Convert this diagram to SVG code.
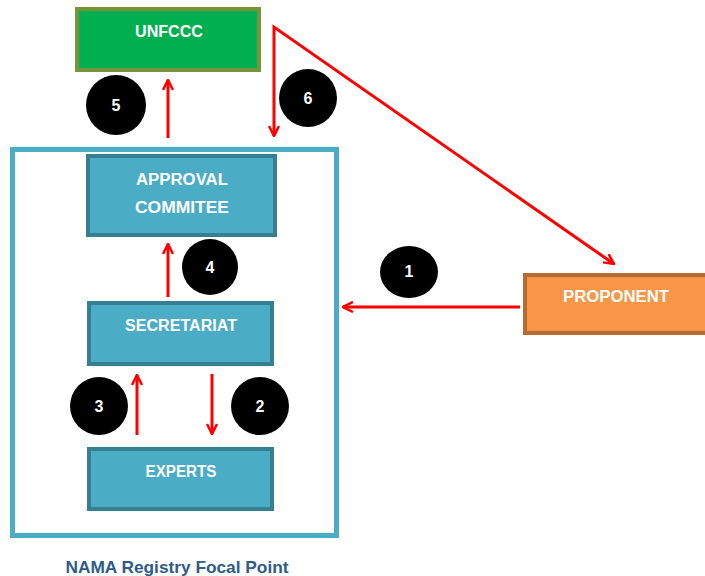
<svg xmlns="http://www.w3.org/2000/svg" width="705" height="576" viewBox="0 0 705 576">
<style>
.lbl{font-family:"Liberation Sans",Arial,sans-serif;font-weight:bold;fill:#ffffff;text-anchor:middle}
.num{font-family:"Liberation Sans",Arial,sans-serif;font-weight:bold;fill:#ffffff;font-size:16px;text-anchor:middle}
.teal{fill:#4BACC6;stroke:#367F93;stroke-width:4}
.conn{fill:none;stroke:#FF0000;stroke-width:3}
.badge{fill:#000000}
</style>
<defs>
<marker id="ah" viewBox="0 0 12 12" refX="11" refY="6" markerWidth="12" markerHeight="12" markerUnits="userSpaceOnUse" orient="auto-start-reverse">
<path d="M1,1 L11,6 L1,11" fill="none" stroke="#FF0000" stroke-width="2.5"/>
</marker>
</defs>
<rect x="0" y="0" width="705" height="576" fill="#ffffff"/>

<g id="focal-point">
<rect x="12.5" y="149.5" width="324" height="386" fill="none" stroke="#4BACC6" stroke-width="5"/>
<text x="177" y="573" font-family="'Liberation Sans',Arial,sans-serif" font-weight="bold" font-size="17" fill="#2E5C8A" text-anchor="middle" textLength="223" lengthAdjust="spacingAndGlyphs">NAMA Registry Focal Point</text>
</g>

<g id="unfccc">
<rect x="77" y="9" width="182" height="61" fill="#00B050" stroke="#77933C" stroke-width="4"/>
<text class="lbl" x="169" y="37" font-size="16" textLength="68" lengthAdjust="spacingAndGlyphs">UNFCCC</text>
</g>

<g id="approval">
<rect class="teal" x="88" y="156" width="187" height="79"/>
<text class="lbl" x="182" y="185" font-size="16" textLength="92" lengthAdjust="spacingAndGlyphs">APPROVAL</text>
<text class="lbl" x="182" y="213" font-size="16" textLength="94" lengthAdjust="spacingAndGlyphs">COMMITEE</text>
</g>

<g id="secretariat">
<rect class="teal" x="89" y="303" width="183" height="61"/>
<text class="lbl" x="181" y="331" font-size="16" textLength="112" lengthAdjust="spacingAndGlyphs">SECRETARIAT</text>
</g>

<g id="experts">
<rect class="teal" x="89" y="449" width="183" height="60"/>
<text class="lbl" x="181" y="477" font-size="16" textLength="71" lengthAdjust="spacingAndGlyphs">EXPERTS</text>
</g>

<g id="proponent">
<rect x="525" y="275" width="182" height="58" fill="#F79646" stroke="#B46A30" stroke-width="4"/>
<text class="lbl" x="616" y="302" font-size="16" textLength="106" lengthAdjust="spacingAndGlyphs">PROPONENT</text>
</g>

<g id="connectors">
<path class="conn" d="M520,307 L343,307" marker-end="url(#ah)"/>
<path class="conn" d="M212,374 L212,434" marker-end="url(#ah)"/>
<path class="conn" d="M137,435 L137,375" marker-end="url(#ah)"/>
<path class="conn" d="M168,297 L168,244" marker-end="url(#ah)"/>
<path class="conn" d="M168,138 L168,80" marker-end="url(#ah)"/>
<path class="conn" d="M274,136 L274,27 L614,264" marker-start="url(#ah)" marker-end="url(#ah)"/>
</g>

<g id="badges">
<ellipse class="badge" cx="409" cy="272" rx="29" ry="26"/>
<text class="num" x="409" y="277">1</text>
<circle class="badge" cx="260" cy="406" r="29"/>
<text class="num" x="260" y="412">2</text>
<circle class="badge" cx="99" cy="406" r="29"/>
<text class="num" x="99" y="412">3</text>
<circle class="badge" cx="210" cy="267" r="28"/>
<text class="num" x="210" y="273">4</text>
<circle class="badge" cx="116" cy="105" r="30"/>
<text class="num" x="116" y="111">5</text>
<circle class="badge" cx="308" cy="98" r="29"/>
<text class="num" x="308" y="104">6</text>
</g>
</svg>
